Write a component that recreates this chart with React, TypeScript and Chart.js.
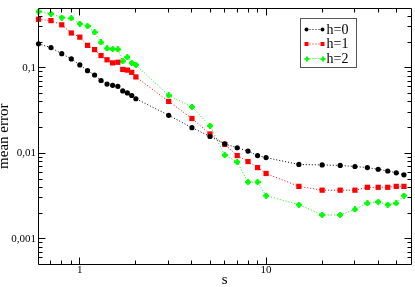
import React, { useEffect, useRef } from "react";
import { Chart, registerables } from "chart.js";

Chart.register(...registerables);

const sValues = [0.6, 0.7, 0.8, 0.9, 1.0, 1.1, 1.2, 1.3, 1.4, 1.5, 1.6, 1.7, 1.8, 1.9, 2.0, 3, 4, 5, 6, 7, 8, 9, 10, 15, 20, 25, 30, 35, 40, 45, 50, 55];
const errH0 = [0.191, 0.172, 0.146, 0.127, 0.108, 0.0924, 0.0823, 0.071, 0.0644, 0.0623, 0.0607, 0.0536, 0.0508, 0.0474, 0.0434, 0.0278, 0.0199, 0.0157, 0.0129, 0.0116, 0.0106, 0.0094, 0.0089, 0.0074, 0.0073, 0.0072, 0.0070, 0.0068, 0.0065, 0.0062, 0.0059, 0.0056];
const errH1 = [0.369, 0.356, 0.318, 0.255, 0.228, 0.183, 0.163, 0.139, 0.124, 0.114, 0.116, 0.0956, 0.0939, 0.0884, 0.0781, 0.0404, 0.0255, 0.0168, 0.0127, 0.0094, 0.0080, 0.0068, 0.0058, 0.0041, 0.0037, 0.0037, 0.0037, 0.0040, 0.0040, 0.0040, 0.0041, 0.0041];
const errH2 = [0.455, 0.428, 0.386, 0.379, 0.327, 0.307, 0.260, 0.198, 0.168, 0.166, 0.164, 0.119, 0.133, 0.114, 0.108, 0.0474, 0.0349, 0.0210, 0.0095, 0.0079, 0.0046, 0.0046, 0.0032, 0.0025, 0.0019, 0.0019, 0.0022, 0.0026, 0.0027, 0.0025, 0.0026, 0.0032];
const seriesLabels = ["h=0", "h=1", "h=2"];
const xTickValues = [1, 10];
const xTickLabels = ["1", "10"];
const yTickValues = [0.001, 0.01, 0.1];
const yTickLabels = ["0,001", "0,01", "0,1"];
const xTitle = "s";
const yTitle = "mean error";

const SERIF = '"Liberation Serif", "Times New Roman", serif';

function makePlus(size: number, arm: number, color: string) {
  const c = document.createElement("canvas");
  c.width = size;
  c.height = size;
  const g = c.getContext("2d")!;
  g.fillStyle = color;
  const o = (size - arm) / 2;
  g.fillRect(o, 0, arm, size);
  g.fillRect(0, o, size, arm);
  g.fillRect(1, 1, size - 2, size - 2);
  return c;
}

function logTicks(min: number, max: number) {
  const out: { v: number; major: boolean }[] = [];
  for (let e = Math.floor(Math.log10(min)) - 1; e <= Math.ceil(Math.log10(max)); e++) {
    for (let m = 1; m < 10; m++) {
      const v = m * Math.pow(10, e);
      if (v > min * 1.0001 && v < max * 0.9999) out.push({ v, major: m === 1 });
    }
  }
  return out;
}

const frameTicks = {
  id: "frameTicks",
  afterDraw(chart: any) {
    const { ctx, chartArea } = chart;
    const { left, right, top, bottom } = chartArea;
    const xs = chart.scales.x;
    const ys = chart.scales.y;
    const crisp = (p: number) => Math.floor(p) + 0.5;
    ctx.save();
    ctx.strokeStyle = "#000";
    ctx.lineWidth = 1;
    ctx.beginPath();
    ctx.rect(crisp(left), crisp(top), crisp(right) - crisp(left), crisp(bottom) - crisp(top));
    ctx.stroke();
    ctx.beginPath();
    for (const t of logTicks(xs.min, xs.max)) {
      const px = crisp(xs.getPixelForValue(t.v));
      const len = t.major ? 7 : 4;
      ctx.moveTo(px, crisp(bottom));
      ctx.lineTo(px, crisp(bottom) - len);
      ctx.moveTo(px, crisp(top));
      ctx.lineTo(px, crisp(top) + len);
    }
    for (const t of logTicks(ys.min, ys.max)) {
      const py = crisp(ys.getPixelForValue(t.v));
      const len = t.major ? 7 : 4;
      ctx.moveTo(crisp(left), py);
      ctx.lineTo(crisp(left) + len, py);
      ctx.moveTo(crisp(right), py);
      ctx.lineTo(crisp(right) - len, py);
    }
    ctx.stroke();

    // legend
    const bx = 300.5, by = 18.5, bw = 56, bh = 49;
    ctx.fillStyle = "#fff";
    ctx.fillRect(bx, by, bw, bh);
    ctx.strokeStyle = "#555";
    ctx.strokeRect(bx, by, bw, bh);
    const rows = [29, 43.5, 58];
    chart.data.datasets.forEach((ds: any, i: number) => {
      const y = rows[i];
      const x1 = 306.5, x2 = 322.5;
      ctx.strokeStyle = ds.borderColor;
      ctx.setLineDash([1, 2]);
      ctx.beginPath();
      ctx.moveTo(x1, y + 0.5);
      ctx.lineTo(x2, y + 0.5);
      ctx.stroke();
      ctx.setLineDash([]);
      ctx.fillStyle = ds.borderColor;
      for (const mx of [x1, x2]) {
        if (i === 0) {
          ctx.beginPath();
          ctx.arc(mx, y + 0.5, 2, 0, Math.PI * 2);
          ctx.fill();
        } else if (i === 1) {
          ctx.fillRect(mx - 2, y - 1.5, 4, 4);
        } else {
          ctx.fillRect(mx - 0.5, y - 1.5, 2, 5);
          ctx.fillRect(mx - 2, y, 5, 2);
        }
      }
      ctx.fillStyle = "#000";
      ctx.font = `14px ${SERIF}`;
      ctx.textAlign = "left";
      ctx.textBaseline = "middle";
      ctx.fillText(ds.label, 326.5, y + 1);
    });
    ctx.restore();
  },
};

export default function App() {
  const ref = useRef<HTMLCanvasElement>(null);
  useEffect(() => {
    const plus = makePlus(6, 2, "#00ff00");
    const chart = new Chart(ref.current!, {
      type: "line",
      data: {
        labels: sValues,
        datasets: [
          {
            label: seriesLabels[0],
            data: sValues.map((s, i) => ({ x: s, y: errH0[i] })),
            borderColor: "#000000",
            backgroundColor: "#000000",
            pointStyle: "circle",
            pointRadius: 2.6,
          },
          {
            label: seriesLabels[1],
            data: sValues.map((s, i) => ({ x: s, y: errH1[i] })),
            borderColor: "#ff0000",
            backgroundColor: "#ff0000",
            pointStyle: "rect",
            pointRadius: 3.7,
          },
          {
            label: seriesLabels[2],
            data: sValues.map((s, i) => ({ x: s, y: errH2[i] })),
            borderColor: "#00ff00",
            backgroundColor: "#00ff00",
            pointStyle: plus as any,
            pointRadius: 3,
          },
        ].map((d) => ({
          ...d,
          borderWidth: 1,
          borderDash: [1, 2],
          pointBorderWidth: 0,
          tension: 0,
          fill: false,
          clip: false as any,
        })) as any,
      },
      options: {
        animation: false,
        responsive: false,
        layout: { padding: { top: 0.5, right: 2.5, left: 0, bottom: 0 } },
        plugins: { legend: { display: false }, tooltip: { enabled: false } },
        scales: {
          x: {
            type: "logarithmic",
            min: 0.6,
            max: 60,
            grid: { display: false, drawTicks: false },
            border: { display: false },
            afterBuildTicks: (s: any) => {
              s.ticks = xTickValues.map((v) => ({ value: v }));
            },
            afterFit: (s: any) => {
              s.height = 22.5;
            },
            ticks: {
              autoSkip: false,
              maxRotation: 0,
              padding: 0,
              color: "#000",
              font: { family: SERIF, size: 11, lineHeight: 1 },
              callback: (_v: any, i: number) => xTickLabels[i],
            },
            title: {
              display: true,
              text: xTitle,
              color: "#000",
              padding: 0,
              font: { family: SERIF, size: 15, lineHeight: 0.88 },
            },
          },
          y: {
            type: "logarithmic",
            min: 0.0005,
            max: 0.5,
            grid: { display: false, drawTicks: false },
            border: { display: false },
            afterBuildTicks: (s: any) => {
              s.ticks = yTickValues.map((v) => ({ value: v }));
            },
            afterFit: (s: any) => {
              s.width = 38.5;
            },
            ticks: {
              autoSkip: false,
              padding: 2.5,
              color: "#000",
              font: { family: SERIF, size: 11, lineHeight: 1 },
              callback: (_v: any, i: number) => yTickLabels[i],
            },
            title: {
              display: true,
              text: yTitle,
              color: "#000",
              padding: 0,
              font: { family: SERIF, size: 15, lineHeight: 0.53 },
            },
          },
        },
      } as any,
      plugins: [frameTicks],
    });
    return () => chart.destroy();
  }, []);
  return (
    <div style={{ position: "fixed", left: 0, top: 0, width: 415, height: 287, background: "#fff" }}>
      <canvas ref={ref} width={415} height={287} style={{ display: "block" }} />
    </div>
  );
}
